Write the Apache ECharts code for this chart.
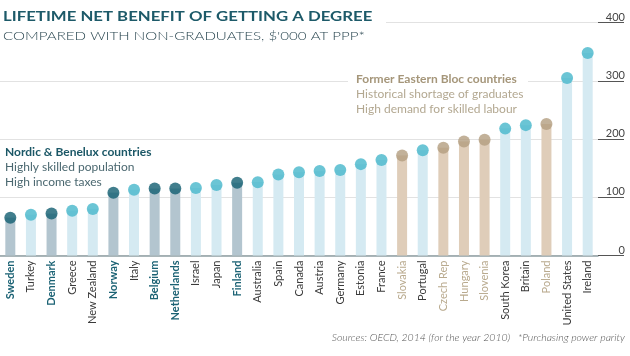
<!DOCTYPE html>
<html><head><meta charset="utf-8">
<script src="https://cdn.jsdelivr.net/npm/echarts@6/dist/echarts.min.js"></script>
<style>html,body{margin:0;padding:0;background:#fff}#c{width:630px;height:356px}</style>
</head><body><div id="c"></div>
<script>
const categories = ["Sweden","Turkey","Denmark","Greece","New Zealand","Norway","Italy","Belgium","Netherlands","Israel","Japan","Finland","Australia","Spain","Canada","Austria","Germany","Estonia","France","Slovakia","Portugal","Czech Rep","Hungary","Slovenia","South Korea","Britain","Poland","United States","Ireland"];
const values = [65,70,72,77,80,108,113,115,115,116,121,125,126,139,143,145,147,157,164,172,181,185,196,199,218,224,226,305,348];
const groups = ["n","o","n","o","o","n","o","n","n","o","o","n","o","o","o","o","o","o","o","e","o","e","e","e","o","o","e","o","o"];
const yTicks = [0,100,200,300,400];

const dotColor = {n:"#125e70", o:"#46b7cb", e:"#b39e7f"};
const barColor = {n:"#b3c5cf", o:"#d5eaf2", e:"#dfcdb9"};
const FONT = "Lato";

const chart = echarts.init(document.getElementById('c'), null, {renderer:'canvas'});
chart.setOption({
  animation:false,
  textStyle:{fontFamily:FONT},
  grid:{left:0, top:22.7, width:598, height:232.8, containLabel:false},
  xAxis:{
    type:'category', data:categories, boundaryGap:true,
    axisLine:{show:true, lineStyle:{color:'#8f9ea3', width:1.5}},
    axisTick:{show:false},
    axisLabel:{
      rotate:90, margin:5, interval:0, fontSize:11,
      formatter:function(v, i){ return '{' + groups[i] + '|' + v + '}'; },
      rich:{
        n:{color:'#1b6274', fontWeight:'bold', fontSize:11, fontFamily:FONT},
        o:{color:'#3a3a3a', fontSize:11, fontFamily:FONT},
        e:{color:'#b9aa8e', fontSize:11, fontFamily:FONT}
      }
    }
  },
  yAxis:{
    type:'value', position:'right', min:0, max:400, interval:100,
    axisLine:{show:false},
    axisTick:{show:true, length:26, lineStyle:{color:'#555', width:1}},
    axisLabel:{
      align:'right', verticalAlign:'bottom', margin:27, fontSize:11, color:'#444',
      formatter:function(v){ return yTicks.indexOf(v) >= 0 ? String(v) : ''; }
    },
    splitLine:{show:true, lineStyle:{color:'#e2e2e2', width:1}}
  },
  series:[
    {
      type:'bar', barWidth:10, z:2,
      data: values.map((v,i)=>({value:v, itemStyle:{color:barColor[groups[i]]}}))
    },
    {
      type:'scatter', symbol:'circle', symbolSize:12, z:3,
      data: values.map((v,i)=>({value:[i, v], itemStyle:{color:dotColor[groups[i]]}}))
    }
  ],
  graphic:[
    {type:'rect', z:10, shape:{x:0, y:0, width:386, height:44}, style:{fill:'#fff'}},
    {type:'text', z:11, x:3, y:10, scaleX:1.29, originX:0, originY:0, style:{text:'LIFETIME NET BENEFIT OF GETTING A DEGREE', fill:'#1d5a69', font:'bold 13px '+FONT, textVerticalAlign:'top'}},
    {type:'text', z:11, x:3, y:30, scaleX:1.26, originX:0, originY:0, style:{text:"COMPARED WITH NON-GRADUATES, $'000 AT PPP*", fill:'#2c4852', font:'300 12px '+FONT, textVerticalAlign:'top'}},
    {type:'text', z:11, left:5, top:146, style:{text:'Nordic & Benelux countries', fill:'#1b5766', font:'bold 12px '+FONT}},
    {type:'text', z:11, left:5, top:161, style:{text:'Highly skilled population', fill:'#4b6870', font:'12px '+FONT}},
    {type:'text', z:11, left:5, top:176, style:{text:'High income taxes', fill:'#4b6870', font:'12px '+FONT}},
    {type:'rect', z:10, shape:{x:348, y:68, width:180, height:50}, style:{fill:'#fff'}},
    {type:'text', z:11, left:356, top:73, style:{text:'Former Eastern Bloc countries', fill:'#a5967a', font:'bold 12px '+FONT}},
    {type:'text', z:11, left:356, top:88, style:{text:'Historical shortage of graduates', fill:'#b3a891', font:'12px '+FONT}},
    {type:'text', z:11, left:356, top:103, style:{text:'High demand for skilled labour', fill:'#b3a891', font:'12px '+FONT}},
    {type:'text', z:11, right:5, top:332, style:{text:'Sources: OECD, 2014 (for the year 2010)   *Purchasing power parity', fill:'#555', font:'italic 300 10.5px '+FONT}}
  ]
});
</script></body></html>
